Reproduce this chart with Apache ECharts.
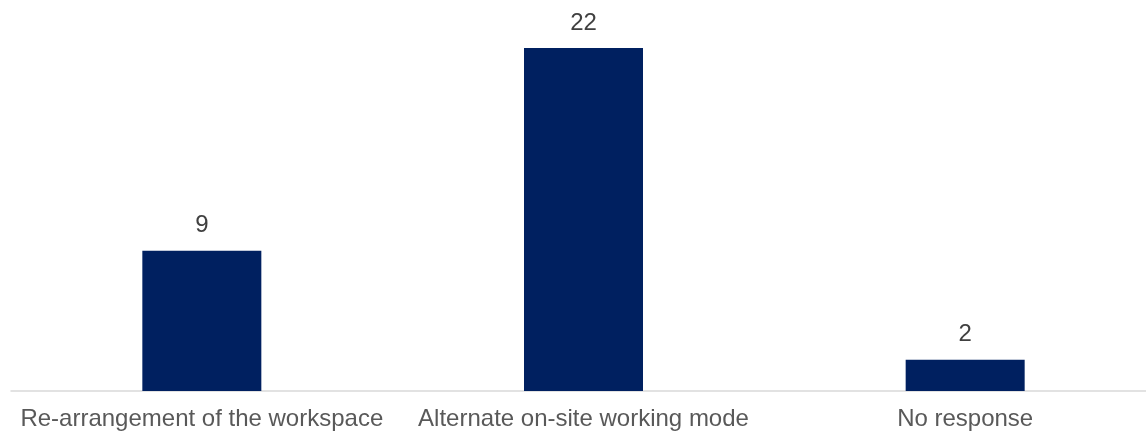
<!DOCTYPE html>
<html>
<head>
<meta charset="utf-8">
<script src="https://cdn.jsdelivr.net/npm/echarts@6/dist/echarts.min.js"></script>
<style>
html,body{margin:0;padding:0;background:#fff;overflow:hidden;}
#chart{width:1160px;height:433px;}
</style>
</head>
<body>
<div id="chart"></div>
<script>
const categories = ["Re-arrangement of the workspace", "Alternate on-site working mode", "No response"];
const values = [9, 22, 2];

const chart = echarts.init(document.getElementById('chart'));
chart.setOption({
  animation: false,
  grid: { left: 11, right: 4, top: 48, bottom: 42, containLabel: false },
  xAxis: {
    type: 'category',
    data: categories,
    axisLine: { lineStyle: { color: '#d9d9d9', width: 1.5 } },
    axisTick: { show: false },
    axisLabel: { color: '#595959', fontSize: 24, fontFamily: 'Liberation Sans, Arial, sans-serif', margin: 16, interval: 0 }
  },
  yAxis: {
    type: 'value', min: 0, max: 22, show: false,
    splitLine: { show: false }
  },
  series: [{
    type: 'bar',
    data: values,
    barWidth: 119,
    itemStyle: { color: '#002060' },
    label: {
      show: true, position: 'top', distance: 13,
      color: '#404040', fontSize: 24, fontFamily: 'Liberation Sans, Arial, sans-serif'
    }
  }]
});
</script>
</body>
</html>
